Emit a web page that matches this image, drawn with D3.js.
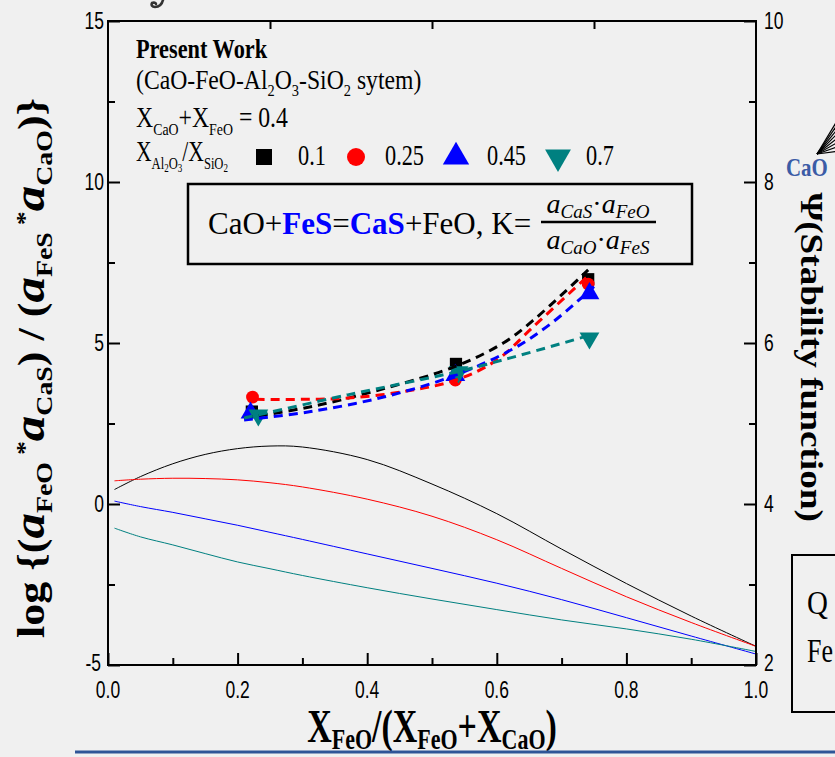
<!DOCTYPE html>
<html>
<head>
<meta charset="utf-8">
<script src="https://cdn.jsdelivr.net/npm/d3@7"></script>
<style>
  body { margin: 0; background: #f0f0f0; }
  svg { display: block; }
  .serif { font-family: "Liberation Serif", "Times New Roman", serif; }
  .sans { font-family: "Liberation Sans", Arial, sans-serif; }
</style>
</head>
<body>
<svg id="chart" width="835" height="757"></svg>
<script>
// ---- data ----
const ratioLabels = ["0.1", "0.25", "0.45", "0.7"];
const seriesColors = ["#000000", "#ff0000", "#0000ff", "#008080"];
const seriesSymbols = ["square", "circle", "triangleUp", "triangleDown"];

// measured points, X_FeO/(X_FeO+X_CaO) vs log K'
const measX_01  = [0.222, 0.537, 0.741];
const measY_01  = [2.87, 4.35, 6.98];
const measX_025 = [0.223, 0.536, 0.741];
const measY_025 = [3.32, 3.85, 6.83];
const measX_045 = [0.220, 0.536, 0.743];
const measY_045 = [2.83, 4.00, 6.54];
const measX_07  = [0.232, 0.541, 0.743];
const measY_07  = [2.76, 4.10, 5.15];

// fitted trend lines through the measured points (dashed)
const fitX_01  = [0.21, 0.313, 0.427, 0.537, 0.61, 0.656, 0.741];
const fitY_01  = [2.67, 3.02, 3.59, 4.28, 5.00, 5.70, 7.27];
const fitX_025 = [0.228, 0.30, 0.37, 0.456, 0.537, 0.60, 0.656, 0.739];
const fitY_025 = [3.25, 3.25, 3.29, 3.49, 3.85, 4.47, 5.50, 7.05];
const fitX_045 = [0.21, 0.313, 0.427, 0.536, 0.627, 0.684, 0.75];
const fitY_045 = [2.61, 2.87, 3.33, 4.00, 4.84, 5.61, 6.75];
const fitX_07  = [0.21, 0.37, 0.537, 0.627, 0.745];
const fitY_07  = [2.67, 3.39, 4.10, 4.57, 5.25];

// stability-function curves (solid)
const curveX     = [0.01, 0.05, 0.1, 0.15, 0.2, 0.25, 0.3, 0.4, 0.5, 0.6, 0.7, 0.8, 0.9, 1.0];
const curveY_01  = [0.45, 0.85, 1.25, 1.54, 1.72, 1.80, 1.77, 1.38, 0.62, -0.30, -1.40, -2.47, -3.48, -4.42];
const curveY_025 = [0.72, 0.77, 0.80, 0.79, 0.75, 0.66, 0.53, 0.15, -0.38, -1.11, -2.00, -2.88, -3.68, -4.42];
const curveY_045 = [0.09, -0.08, -0.26, -0.46, -0.66, -0.88, -1.10, -1.55, -2.00, -2.46, -2.97, -3.53, -4.10, -4.66];
const curveY_07  = [-0.75, -1.02, -1.27, -1.54, -1.80, -2.01, -2.22, -2.60, -2.95, -3.28, -3.60, -3.88, -4.20, -4.58];

const xTicks = [0.0, 0.2, 0.4, 0.6, 0.8, 1.0];
const xTickLabels = ["0.0", "0.2", "0.4", "0.6", "0.8", "1.0"];
const yTicks = [-5, 0, 5, 10, 15];
const yTickLabels = ["-5", "0", "5", "10", "15"];
const yRightTicks = [2, 4, 6, 8, 10];
const yRightTickLabels = ["2", "4", "6", "8", "10"];

const measX = [measX_01, measX_025, measX_045, measX_07];
const measY = [measY_01, measY_025, measY_045, measY_07];
const fitX = [fitX_01, fitX_025, fitX_045, fitX_07];
const fitY = [fitY_01, fitY_025, fitY_045, fitY_07];
const curveYs = [curveY_01, curveY_025, curveY_045, curveY_07];

// ---- layout ----
const svg = d3.select("#chart");
const W = 835, H = 757;
svg.append("rect").attr("width", W).attr("height", H).attr("fill", "#f0f0f0");

const x = d3.scaleLinear().domain([0, 1]).range([108, 756]);
const y = d3.scaleLinear().domain([-5, 15]).range([665, 21]);
const yR = d3.scaleLinear().domain([2, 10]).range([665, 21]);

const symbolType = {
  square: d3.symbolSquare,
  circle: d3.symbolCircle,
  triangleUp: d3.symbolTriangle,
  triangleDown: d3.symbolTriangle
};

function drawSymbol(g, kind, cx, cy, size, color) {
  const p = d3.symbol().type(symbolType[kind]).size(size)();
  const rot = kind === "triangleDown" ? 180 : 0;
  g.append("path").attr("d", p)
    .attr("transform", `translate(${cx},${cy}) rotate(${rot})`)
    .attr("fill", color);
}

// ---- rich text helper: text drawn at origin of a (possibly stretched) group ----
function rich(parent, xPos, yPos, parts, base) {
  const sx = base.sx || 1, sy = base.sy || 1, rot = base.rotate || 0;
  const g = parent.append("g")
    .attr("transform", `translate(${xPos},${yPos}) rotate(${rot}) scale(${sx},${sy})`);
  const t = g.append("text").attr("x", 0).attr("y", 0).attr("class", base.cls || "serif")
    .attr("font-size", base.size).attr("fill", base.fill || "#000");
  if (base.anchor) t.attr("text-anchor", base.anchor);
  if (base.weight) t.attr("font-weight", base.weight);
  if (base.baseline) t.attr("dominant-baseline", base.baseline);
  parts.forEach(p => {
    const s = t.append("tspan").text(p.t);
    if (p.size) s.attr("font-size", p.size);
    if (p.dy) s.attr("dy", p.dy);
    if (p.bold) s.attr("font-weight", "bold");
    if (p.italic) s.attr("font-style", "italic");
    if (p.fill) s.attr("fill", p.fill);
    if (p.dx) s.attr("dx", p.dx);
  });
  return t;
}

// ---- solid stability curves ----
const solidLine = d3.line().curve(d3.curveCatmullRom.alpha(0.5));
curveYs.forEach((ys, i) => {
  svg.append("path")
    .attr("d", solidLine(curveX.map((v, k) => [x(v), y(ys[k])])))
    .attr("fill", "none").attr("stroke", seriesColors[i]).attr("stroke-width", 1);
});

// ---- measured points ----
const markerSize = [150, 130, 170, 170];
measX.forEach((xs, i) => {
  xs.forEach((v, k) => drawSymbol(svg, seriesSymbols[i], x(v), y(measY[i][k]), markerSize[i], seriesColors[i]));
});

// ---- dashed fits ----
const fitLine = d3.line().curve(d3.curveCatmullRom.alpha(0.5));
fitX.forEach((xs, i) => {
  svg.append("path")
    .attr("d", fitLine(xs.map((v, k) => [x(v), y(fitY[i][k])])))
    .attr("fill", "none").attr("stroke", seriesColors[i])
    .attr("stroke-width", 3).attr("stroke-dasharray", "9,6");
});

// ---- axes (inward ticks, framed box) ----
const axisW = 2;
function styleAxis(g) {
  g.select(".domain").remove();
  g.selectAll("line").attr("stroke", "#000").attr("stroke-width", axisW);
  g.selectAll("text").remove();
}

svg.append("g").attr("transform", "translate(0,665)")
  .call(d3.axisBottom(x).tickValues(xTicks).tickSize(-12)).call(styleAxis);
svg.append("g").attr("transform", "translate(0,665)")
  .call(d3.axisBottom(x).tickValues(d3.range(0.1, 1, 0.2)).tickSize(-7)).call(styleAxis);
svg.append("g").attr("transform", "translate(0,21)")
  .call(d3.axisTop(x).tickValues([0.25, 0.5, 0.75]).tickSize(-8)).call(styleAxis);
svg.append("g").attr("transform", "translate(108,0)")
  .call(d3.axisLeft(y).tickValues(yTicks).tickSize(-12)).call(styleAxis);
svg.append("g").attr("transform", "translate(108,0)")
  .call(d3.axisLeft(y).tickValues([-2.5, 2.5, 7.5, 12.5]).tickSize(-7)).call(styleAxis);
svg.append("g").attr("transform", "translate(756,0)")
  .call(d3.axisRight(yR).tickValues(yRightTicks).tickSize(-12)).call(styleAxis);
svg.append("g").attr("transform", "translate(756,0)")
  .call(d3.axisRight(yR).tickValues([3, 5, 7, 9]).tickSize(-7)).call(styleAxis);

svg.append("rect").attr("x", 108).attr("y", 21).attr("width", 648).attr("height", 644)
  .attr("fill", "none").attr("stroke", "#000").attr("stroke-width", axisW);

// tick labels (tall, narrow figures)
const tickStyle = { size: 19, sx: 0.92, sy: 1.3, cls: "sans", baseline: "central" };
xTicks.forEach((v, i) => rich(svg, x(v), 690, [{ t: xTickLabels[i] }], { ...tickStyle, anchor: "middle" }));
yTicks.forEach((v, i) => rich(svg, v === -5 ? 101 : 104, y(v) - (v === -5 ? 2 : 0), [{ t: yTickLabels[i] }], { ...tickStyle, anchor: "end" }));
yRightTicks.forEach((v, i) => rich(svg, 764, yR(v) - (v === 2 ? 2 : 0), [{ t: yRightTickLabels[i] }], { ...tickStyle, anchor: "start" }));

// ---- axis titles ----
rich(svg, 44, 368, [
  { t: "log {(" },
  { t: "a", italic: true, size: 44 },
  { t: "FeO", size: 24, dy: 8 },
  { t: " *", size: 24, dy: -20 },
  { t: "a", italic: true, size: 44, dy: 12 },
  { t: "CaS", size: 24, dy: 8 },
  { t: ") / (", dy: -8 },
  { t: "a", italic: true, size: 44 },
  { t: "FeS", size: 24, dy: 8 },
  { t: " *", size: 24, dy: -20 },
  { t: "a", italic: true, size: 44, dy: 12 },
  { t: "CaO", size: 24, dy: 8 },
  { t: ")}", dy: -8 }
], { size: 38, weight: "bold", anchor: "middle", rotate: -90, sx: 1.16 });

rich(svg, 432, 742, [
  { t: "X" },
  { t: "FeO", size: 22, dy: 5 },
  { t: "/(X", dy: -5 },
  { t: "FeO", size: 22, dy: 5 },
  { t: "+X", dy: -5 },
  { t: "CaO", size: 22, dy: 5 },
  { t: ")", dy: -5 }
], { size: 34, weight: "bold", anchor: "middle", sy: 1.35 });

rich(svg, 801, 357, [{ t: "Ψ(Stability function)" }],
  { size: 31, weight: "bold", anchor: "middle", rotate: 90, sx: 1.2 });

// ---- legend block ----
rich(svg, 136, 58, [{ t: "Present Work" }], { size: 23, weight: "bold", sx: 0.97, sy: 1.15 });
rich(svg, 136, 89, [
  { t: "(CaO-FeO-Al" }, { t: "2", size: 14, dy: 6 }, { t: "O", dy: -6 }, { t: "3", size: 14, dy: 6 },
  { t: "-SiO", dy: -6 }, { t: "2", size: 14, dy: 6 }, { t: " sytem)", dy: -6 }
], { size: 23, sx: 1.03, sy: 1.15 });
rich(svg, 136, 127, [
  { t: "X" }, { t: "CaO", size: 14, dy: 6 }, { t: "+X", dy: -6 }, { t: "FeO", size: 14, dy: 6 },
  { t: " = 0.4", dy: -6 }
], { size: 24, sx: 0.99, sy: 1.25 });
rich(svg, 136, 161, [
  { t: "X" }, { t: "Al", size: 14, dy: 6 }, { t: "2", size: 10, dy: 3 }, { t: "O", size: 14, dy: -3 },
  { t: "3", size: 10, dy: 3 }, { t: "/X", size: 24, dy: -9 }, { t: "SiO", size: 14, dy: 6 },
  { t: "2", size: 10, dy: 3 }
], { size: 24, sx: 0.9, sy: 1.25 });

const legendMarkX = [264, 356, 456, 558];
const legendTextX = [298, 385, 487, 586];
const legendMarkSize = [256, 254, 300, 290];
ratioLabels.forEach((lab, i) => {
  drawSymbol(svg, seriesSymbols[i], legendMarkX[i], 157, legendMarkSize[i], seriesColors[i]);
  rich(svg, legendTextX[i], 165, [{ t: lab }], { size: 23, sx: 0.97, sy: 1.3 });
});

// ---- reaction box ----
svg.append("rect").attr("x", 188).attr("y", 184).attr("width", 504).attr("height", 80)
  .attr("fill", "none").attr("stroke", "#000").attr("stroke-width", 2.5);
rich(svg, 208, 234, [
  { t: "CaO+" }, { t: "FeS", bold: true, fill: "#0000ff" }, { t: "=" },
  { t: "CaS", bold: true, fill: "#0000ff" }, { t: "+FeO, K=" }
], { size: 31 });
svg.append("line").attr("x1", 541).attr("x2", 656).attr("y1", 222).attr("y2", 222)
  .attr("stroke", "#000").attr("stroke-width", 2.5);
rich(svg, 598, 213, [
  { t: "a", italic: true }, { t: "CaS", italic: true, size: 19, dy: 5 }, { t: "·", dy: -5 },
  { t: "a", italic: true }, { t: "FeO", italic: true, size: 19, dy: 5 }
], { size: 28, anchor: "middle" });
rich(svg, 598, 249, [
  { t: "a", italic: true }, { t: "CaO", italic: true, size: 19, dy: 5 }, { t: "·", dy: -5 },
  { t: "a", italic: true }, { t: "FeS", italic: true, size: 19, dy: 5 }
], { size: 28, anchor: "middle" });

// ---- neighbouring slide content at the right edge ----
rich(svg, 786, 176, [{ t: "CaO" }], { size: 22, weight: "bold", fill: "#3b5ca6", sx: 0.95, sy: 1.1 });
[116, 121, 126, 131, 136, 141, 146, 151].forEach(ty => {
  svg.append("line").attr("x1", 817).attr("y1", 154).attr("x2", 840).attr("y2", ty)
    .attr("stroke", "#000").attr("stroke-width", 1.2);
});
svg.append("rect").attr("x", 792).attr("y", 555).attr("width", 70).attr("height", 157)
  .attr("fill", "none").attr("stroke", "#000").attr("stroke-width", 2);
rich(svg, 807, 614, [{ t: "Q" }], { size: 29, sy: 1.18 });
rich(svg, 807, 662, [{ t: "Fe" }], { size: 26, sy: 1.33 });

// tail of a heading glyph just above the frame
svg.append("path").attr("d", "M163,0 C162,4 159,7 155,7 C152,7 151,5 152,3 C154,2 156,3 156,4")
  .attr("fill", "none").attr("stroke", "#333").attr("stroke-width", 2.6).attr("stroke-linecap", "round");

// slide divider line
svg.append("line").attr("x1", 75).attr("x2", 835).attr("y1", 752).attr("y2", 752)
  .attr("stroke", "#2f5597").attr("stroke-width", 3);
</script>
</body>
</html>
